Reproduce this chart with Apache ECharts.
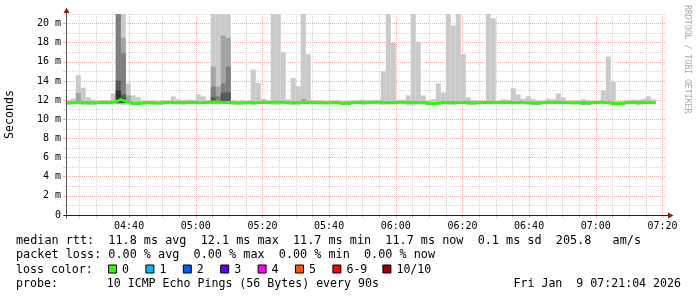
<!DOCTYPE html>
<html><head><meta charset="utf-8">
<script src="https://cdn.jsdelivr.net/npm/echarts@6/dist/echarts.min.js"></script>
<style>html,body{margin:0;padding:0;background:#fff;}#c{width:697px;height:297px;}</style>
</head><body><div id="c"></div>
<script>
// ---- data (x in minutes after 04:00, y in ms) ----
const axisStartMin = 21 + 4/60;   // 04:21:04
const axisEndMin = 201 + 4/60;    // 07:21:04
const firstBarStart = 21.0;       // 04:21:00
const stepMin = 1.5;              // 90 s RRD step

const xMajorTicks = [40, 60, 80, 100, 120, 140, 160, 180, 200];
const xTickLabels = ['04:40','05:00','05:20','05:40','06:00','06:20','06:40','07:00','07:20'];
const xMinorTicks = [25,30,35,45,50,55,65,70,75,85,90,95,105,110,115,125,130,135,145,150,155,165,170,175,185,190,195];
const yMajorTicks = [0,2,4,6,8,10,12,14,16,18,20];
const yTickLabels = ['0','2 m','4 m','6 m','8 m','10 m','12 m','14 m','16 m','18 m','20 m'];
const yMinorTicks = [1,3,5,7,9,11,13,15,17,19,21];

const median = [
 11.72,11.75,11.78,11.75,11.72,11.72,11.75,11.78,11.75,11.85,
 12.05,11.88,11.72,11.68,11.68,11.72,11.75,11.72,11.70,11.75,
 11.78,11.72,11.75,11.75,11.78,11.75,11.72,11.75,11.78,11.82,
 11.78,11.75,11.78,11.70,11.70,11.72,11.75,11.72,11.75,11.78,
 11.75,11.80,11.78,11.75,11.72,11.75,11.75,11.78,11.75,11.72,
 11.75,11.72,11.72,11.75,11.72,11.70,11.70,11.75,11.78,11.72,
 11.75,11.78,11.78,11.75,11.72,11.75,11.78,11.78,11.75,11.75,
 11.72,11.75,11.65,11.65,11.72,11.78,11.75,11.72,11.75,11.78,
 11.72,11.72,11.75,11.75,11.78,11.75,11.75,11.78,11.75,11.75,
 11.75,11.72,11.72,11.70,11.72,11.75,11.75,11.78,11.75,11.75,
 11.72,11.72,11.75,11.72,11.72,11.75,11.78,11.75,11.72,11.65,
 11.65,11.72,11.75,11.78,11.75,11.78,11.75,11.72];

// outermost smoke (ping 10 / ping 1)
const pingMax = [
 12.0,12.2,14.6,13.3,12.3,12.05,11.95,12.0,11.95,12.7,
 21,21,13.75,12.5,12.3,12.0,11.95,11.95,11.9,12.0,
 11.95,12.4,12.1,12.0,12.05,12.05,12.6,12.4,12.0,21,
 21,21,21,11.95,11.95,12.0,11.95,15.2,13.8,12.15,
 11.95,21,21,17.0,12.1,14.3,13.45,21,16.8,12.0,
 11.95,11.95,11.9,11.95,11.95,11.9,11.95,12.0,12.0,12.05,
 12.0,12.0,12.0,15.0,21,18.0,12.05,12.05,12.5,21,
 18.1,12.5,11.95,12.1,13.75,12.8,21,19.8,21,16.8,
 12.3,12.0,11.9,11.9,21,20.55,11.95,12.1,12.0,13.25,
 12.6,12.15,12.4,12.1,11.95,11.95,12.15,12.1,12.7,12.3,
 11.95,11.95,12.0,12.1,12.0,11.95,11.95,13.0,16.55,13.95,
 11.9,11.95,12.0,12.05,12.0,12.15,12.4,12.1];
const pingMin = [
 11.5,11.55,11.55,11.45,11.45,11.45,11.6,11.6,11.55,11.6,
 11.55,11.5,11.55,11.45,11.45,11.55,11.6,11.5,11.5,11.55,
 11.6,11.6,11.55,11.5,11.6,11.55,11.55,11.6,11.6,11.6,
 11.55,11.6,11.6,11.5,11.5,11.55,11.6,11.5,11.6,11.6,
 11.6,11.5,11.5,11.6,11.55,11.45,11.45,11.6,11.55,11.6,
 11.6,11.55,11.55,11.6,11.55,11.45,11.45,11.6,11.6,11.5,
 11.6,11.6,11.55,11.5,11.55,11.6,11.6,11.55,11.45,11.45,
 11.55,11.6,11.45,11.5,11.5,11.6,11.5,11.5,11.6,11.6,
 11.45,11.45,11.55,11.55,11.6,11.6,11.6,11.55,11.6,11.55,
 11.6,11.6,11.55,11.5,11.5,11.6,11.6,11.55,11.6,11.6,
 11.6,11.55,11.6,11.5,11.5,11.6,11.6,11.55,11.6,11.45,
 11.45,11.45,11.6,11.6,11.45,11.55,11.6,11.6];

// inner smoke layers: [bar index, low, high]
const smoke2 = [[2,11.65,12.75],[10,11.6,21],[11,11.65,18.5],[12,11.65,12.5],[13,11.5,11.8],[14,11.5,11.8],
  [29,11.65,15.5],[30,11.65,13.4],[31,11.65,18.75],[32,11.65,18.5],[47,11.65,12.15],
  [55,11.5,11.8],[56,11.5,11.8],[72,11.5,11.75],[109,11.5,11.75],[110,11.5,11.75]];
const smoke3 = [[10,11.7,21],[11,11.7,16.9],[29,11.7,13.4],[30,11.7,12.4],[31,11.7,13.75],[32,11.7,15.5],
  [93,11.55,11.8],[94,11.55,11.8],[103,11.55,11.8],[104,11.55,11.8]];
const smoke4 = [[10,11.75,14.05],[11,11.75,12.6],[29,11.75,12.3],[31,11.75,12.8],[32,11.75,12.8]];
const smoke5 = [[10,11.75,13.0],[11,11.7,12.2]];

const legendRow1 = 'median rtt:  11.8 ms avg  12.1 ms max  11.7 ms min  11.7 ms now  0.1 ms sd  205.8   am/s';
const legendRow2 = 'packet loss: 0.00 % avg  0.00 % max  0.00 % min  0.00 % now';
const lossLabel = 'loss color:';
const lossNames = ['0','1','2','3','4','5','6-9','10/10'];
const lossColors = ['#26ff00','#00b8ff','#0059ff','#5e00ff','#ff00fe','#ff5500','#ff0000','#a00000'];
const probeText = 'probe:       10 ICMP Echo Pings (56 Bytes) every 90s';
const stampText = 'Fri Jan  9 07:21:04 2026';
const yName = 'Seconds';
const creditText = 'RRDTOOL / TOBI OETIKER';

// ---- build ----
const FONT = 'DejaVu Sans Mono';
const smokeColors = ['#cacaca','#a4a4a4','#7e7e7e','#585858','#323232'];
function barItem(k, lo, hi) {
  return [firstBarStart + stepMin * k, firstBarStart + stepMin * (k + 1), lo, hi];
}
const layer1 = pingMax.map((v, k) => barItem(k, pingMin[k], v));
const layers = [layer1].concat([smoke2, smoke3, smoke4, smoke5].map(a => a.map(d => barItem(d[0], d[1], d[2]))));

function makeRender(color) {
  return function (params, api) {
    const p0 = api.coord([api.value(0), api.value(3)]);
    const p1 = api.coord([api.value(1), api.value(2)]);
    const cs = params.coordSys;
    const r = echarts.graphic.clipRectByRect(
      {x: p0[0], y: p0[1], width: p1[0] - p0[0], height: p1[1] - p0[1]},
      {x: cs.x, y: cs.y, width: cs.width, height: cs.height});
    if (!r) return null;
    return {type: 'rect', shape: r, style: {fill: color}};
  };
}

const medianData = median.map((v, k) => [firstBarStart + stepMin * k, v]);
medianData.push([firstBarStart + stepMin * median.length, median[median.length - 1]]);

const chart = echarts.init(document.getElementById('c'), null, {renderer: 'canvas'});
const majorColor = '#efb0b0', minorColor = '#d6d6d6';
const option = {
  animation: false,
  backgroundColor: '#ffffff',
  grid: {left: 66, top: 14, width: 600, height: 201},
  xAxis: [
    {type: 'value', min: axisStartMin, max: axisEndMin, position: 'bottom',
     axisLine: {show: false},
     axisTick: {show: true, customValues: xMajorTicks, length: 3, lineStyle: {color: majorColor}},
     axisLabel: {customValues: xMajorTicks, margin: 6, fontFamily: FONT, fontSize: 10, color: '#000',
       formatter: v => xTickLabels[xMajorTicks.indexOf(Math.round(v))] || ''},
     splitLine: {show: true, lineStyle: {color: majorColor, type: [1, 1], width: 1}}},
    {type: 'value', min: axisStartMin, max: axisEndMin, position: 'bottom',
     axisLine: {show: false},
     axisTick: {show: true, customValues: xMinorTicks, length: 3, lineStyle: {color: minorColor}},
     axisLabel: {show: false, customValues: xMinorTicks},
     splitLine: {show: true, lineStyle: {color: minorColor, type: [1, 1], width: 1}}}
  ],
  yAxis: [
    {type: 'value', min: 0, max: 21, position: 'left',
     axisLine: {show: false},
     axisTick: {show: true, customValues: yMajorTicks, length: 3, lineStyle: {color: majorColor}},
     axisLabel: {customValues: yMajorTicks, margin: 5, fontFamily: FONT, fontSize: 10, color: '#000',
       formatter: v => yTickLabels[yMajorTicks.indexOf(Math.round(v))] || ''},
     splitLine: {show: true, lineStyle: {color: majorColor, type: [1, 1], width: 1}}},
    {type: 'value', min: 0, max: 21, position: 'left',
     axisLine: {show: false},
     axisTick: {show: true, customValues: yMinorTicks, length: 3, lineStyle: {color: minorColor}},
     axisLabel: {show: false, customValues: yMinorTicks},
     splitLine: {show: true, lineStyle: {color: minorColor, type: [1, 1], width: 1}}}
  ],
  series: layers.map((data, i) => ({
    type: 'custom', xAxisIndex: 0, yAxisIndex: 0, z: 2 + i, clip: true,
    renderItem: makeRender(smokeColors[i]), data: data, silent: true
  })).concat([{
    type: 'line', xAxisIndex: 0, yAxisIndex: 0, z: 10, step: 'end', symbol: 'none',
    data: medianData, lineStyle: {color: lossColors[0], width: 3}, clip: true, silent: true
  }])
};
chart.setOption(option);

// ---- decorations: axes with arrows, texts, legend ----
const pBL = chart.convertToPixel({gridIndex: 0}, [axisStartMin, 0]);
const pTR = chart.convertToPixel({gridIndex: 0}, [axisEndMin, 21]);
const ax = Math.round(pBL[0]) + 0.5, ay = Math.round(pBL[1]) + 0.5;
const g = [];
g.push({type: 'line', shape: {x1: ax, y1: ay + 3, x2: ax, y2: pTR[1] - 2}, style: {stroke: '#555', lineWidth: 1}, z: 50});
g.push({type: 'polygon', shape: {points: [[ax, pTR[1] - 6.5], [ax - 3, pTR[1] - 1], [ax + 3, pTR[1] - 1]]}, style: {fill: '#8a1c1c'}, z: 51});
g.push({type: 'line', shape: {x1: ax - 3, y1: ay, x2: pTR[0] + 2, y2: ay}, style: {stroke: '#202020', lineWidth: 1}, z: 50});
g.push({type: 'polygon', shape: {points: [[pTR[0] + 7.5, ay], [pTR[0] + 2, ay - 3], [pTR[0] + 2, ay + 3]]}, style: {fill: '#8a1c1c'}, z: 51});

g.push({type: 'text', x: 10, y: (pBL[1] + pTR[1]) / 2, rotation: Math.PI / 2,
  style: {text: yName, font: '11.6px "' + FONT + '"', fill: '#000', textAlign: 'center', textVerticalAlign: 'middle'}});
g.push({type: 'text', x: 687, y: 5, rotation: -Math.PI / 2,
  style: {text: creditText, font: '8.2px "' + FONT + '"', fill: '#aaaaaa', textAlign: 'left', textVerticalAlign: 'middle'}});

const lx = 16;
const rowY = [241, 255.3, 269.5, 283.7];
g.push({type: 'text', x: lx, y: rowY[0], style: {text: legendRow1, font: '11.8px "' + FONT + '"', fill: '#000', textVerticalAlign: 'middle'}});
g.push({type: 'text', x: lx, y: rowY[1], style: {text: legendRow2, font: '11.8px "' + FONT + '"', fill: '#000', textVerticalAlign: 'middle'}});
g.push({type: 'text', x: lx, y: rowY[2], style: {text: lossLabel, font: '11.6px "' + FONT + '"', fill: '#000', textVerticalAlign: 'middle'}});
let ex = 108;
lossNames.forEach((name, i) => {
  g.push({type: 'rect', shape: {x: ex + 0.5, y: rowY[2] - 4.5, width: 8, height: 8},
    style: {fill: lossColors[i], stroke: '#000', lineWidth: 1}});
  g.push({type: 'text', x: ex + 14, y: rowY[2], style: {text: name, font: '11.6px "' + FONT + '"', fill: '#000', textVerticalAlign: 'middle'}});
  ex += 14 + 6.3 * name.length + 17.1;
});
g.push({type: 'text', x: lx, y: rowY[3], style: {text: probeText, font: '11.6px "' + FONT + '"', fill: '#000', textVerticalAlign: 'middle'}});
g.push({type: 'text', x: 681, y: rowY[3], style: {text: stampText, font: '11.6px "' + FONT + '"', fill: '#000', textAlign: 'right', textVerticalAlign: 'middle'}});
chart.setOption({graphic: {elements: g}});
</script></body></html>
